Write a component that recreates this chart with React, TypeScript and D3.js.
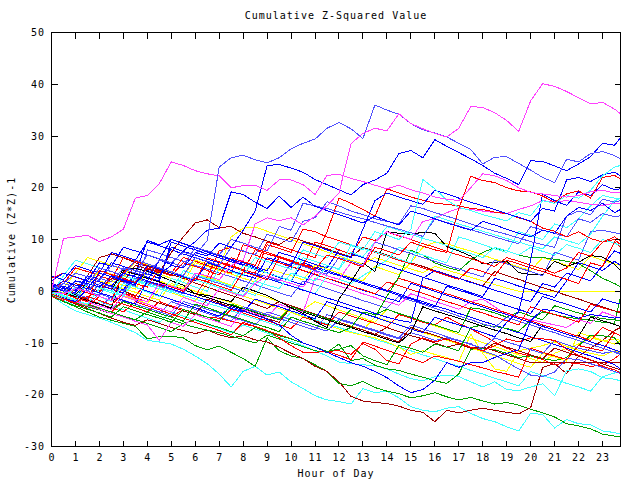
import React from 'react';
import * as d3 from 'd3';

const HOURS = [0, 0.5, 1, 1.5, 2, 2.5, 3, 3.5, 4, 4.5, 5, 5.5, 6, 6.5, 7, 7.5, 8, 8.5, 9, 9.5, 10, 10.5, 11, 11.5, 12, 12.5, 13, 13.5, 14, 14.5, 15, 15.5, 16, 16.5, 17, 17.5, 18, 18.5, 19, 19.5, 20, 20.5, 21, 21.5, 22, 22.5, 23, 23.5, 23.75];
const X_TICKS = [0, 1, 2, 3, 4, 5, 6, 7, 8, 9, 10, 11, 12, 13, 14, 15, 16, 17, 18, 19, 20, 21, 22, 23];
const Y_TICKS = [-30, -20, -10, 0, 10, 20, 30, 40, 50];

const TITLE = 'Cumulative Z-Squared Value';
const X_LABEL = 'Hour of Day';
const Y_LABEL = 'Cumulative (Z*Z)-1';

const RED = '#ff0000';
const GREEN = '#00a000';
const BLUE = '#0000ff';
const MAGENTA = '#ff40ff';
const CYAN = '#40ffff';
const DARKRED = '#a00000';
const YELLOW = '#ffff00';
const BLACK = '#000000';
const SLATE = '#5050ff';

const M1 = [0, 10.2, 10.5, 10.8, 9.6, 10.5, 12, 18, 18.5, 20.8,
  25, 24.3, 23.3, 22.7, 22.3, 20, 20.4, 20.5, 19.5, 21.5,
  21.5, 20.6, 18.7, 22.4, 22.6, 21.8, 21.2, 20.5, 19.8, 20.5,
  19.6, 19, 18.2, 17.8, 17.5, 20, 22.7, 22.3, 21.4, 20,
  19.1, 18.8, 18.5, 18.2, 18.5, 19.2, 19.5, 19, 19];
const M2 = [0, -0.5, 0.5, 0, -1, -1.8, -0.5, -1.5, -2, 1.5,
  1, 0.2, 3.5, 3, 2.2, 5, 6, 13, 14.2, 13.6,
  14.2, 12.8, 14.5, 16.5, 19, 28.5, 30.5, 31.5, 31, 34.3,
  32.4, 31.4, 30.5, 29.8, 31.5, 35.7, 35.5, 34.5, 33, 30.9,
  36.8, 40.1, 39.6, 38.6, 37.4, 36.2, 36.5, 35.2, 34.3];
const S1 = [0.5, 1.5, 0.8, 0, 2.5, 1.8, 4.5, 4, 3.2, 6,
  5.5, 7.5, 7, 9.8, 24, 25.8, 26.3, 25.4, 24.8, 25.8,
  27.5, 28.6, 29.4, 31.5, 32.6, 31.4, 29.5, 36, 35, 34.2,
  32.4, 31.2, 30.6, 29.8, 28.6, 27.4, 24.6, 25.9, 26, 24.7,
  23.4, 22, 21, 25.5, 25, 26.6, 27, 26.2, 25.6];
const BA = [1, 0, 2, 1.5, 0.8, 3, 2.2, 1.5, 4, 3.2,
  5, 4.5, 7.5, 6.8, 9.3, 8.5, 11.8, 15.5, 24.3, 24.5,
  23.8, 23, 21.6, 20.6, 19.6, 18.6, 20.6, 21.5, 22.8, 26.6,
  27.2, 25.8, 29.3, 28, 26.8, 25.6, 24.3, 22.8, 21.8, 20.6,
  25.2, 25.1, 24.2, 23.3, 24.6, 26, 28.6, 28.2, 29.7];
const BB = [0, 1, 0.2, 2.5, 1.8, 1, 3.5, 2.8, 2, 6,
  5.2, 7.8, 9.6, 11.8, 12.2, 19.2, 18.7, 17.2, 16, 18.4,
  16.2, 18.2, 16.4, 15.6, 14.8, 14, 13.2, 14.5, 13.6, 12.8,
  15.5, 14.8, 14, 13.2, 12.5, 11.8, 13.5, 12.8, 12, 11.2,
  10.5, 11.8, 11.2, 14.5, 16.2, 15.6, 17, 15.2, 15.8];
const B10 = [0.5, 2, 1.2, 0.5, 3.5, 2.8, 2, 1.2, 5, 4.3,
  3.5, 2.8, 2, 5.5, 4.8, 4, 3.2, 2.5, 6.5, 5.8,
  5, 9.5, 8.8, 8, 7.2, 6.5, 12, 17.5, 19, 18.2,
  17.5, 16.8, 19.5, 18.8, 18, 17.2, 16.5, 15.8, 15, 14.3,
  13.5, 16, 15.5, 21.5, 22, 21.2, 22.5, 23, 22.3];
const RTOP = [-0.5, -1.5, -2.2, -1, -1.8, -2.6, -0.5, -1.3, -2, 1.5,
  0.8, 0, 2.5, 1.8, 1, 0.2, 3.8, 3, 2.2, 6.5,
  5.8, 5, 4.2, 7, 6.3, 5.5, 4.7, 8.5, 7.8, 7,
  9.5, 8.7, 8, 7.5, 16, 22.2, 21.4, 21, 20, 19.4,
  19.2, 18.4, 17.2, 18.8, 19.4, 18, 22, 22.4, 21.7];
const R2 = [0.5, -0.5, -1.3, -2, 4, 3.2, 2.5, 1.7, 4.5, 3.8,
  3, 5.5, 4.8, 4, 3.2, 6.5, 5.7, 5, 9.5, 8.8,
  8, 7.3, 6.5, 11.5, 18, 17, 15.8, 14.5, 19.8, 19,
  18.2, 17.6, 17, 16.8, 16.5, 16, 15.8, 15.3, 15, 14.2,
  13.5, 12.2, 11.6, 10.5, 11.5, 10.2, 9.5, 10.5, 9.8];
const CTOP = [-0.3, -1.5, 0.8, 0, -1, -2, 1.5, 0.8, -0.2, -1,
  2.5, 1.7, 0.8, 0, 4.5, 3.8, 3, 6.5, 5.8, 5,
  4.2, 8, 7.2, 6.4, 9.5, 8.8, 8, 11.5, 10.8, 10,
  12, 21.6, 19.8, 17.6, 16.2, 15.6, 14.8, 14.2, 13.6, 15.2,
  14.6, 17.5, 17, 18.5, 18, 19.5, 22.3, 24, 24.3];
const C2 = [0.8, 0, -0.8, 1.5, 0.7, 0, -0.8, 2, 1.2, 0.5,
  -0.3, 3, 2.2, 1.5, 0.7, 0, -0.8, 2, 1.2, 0.5,
  3.5, 2.7, 2, 5, 4.2, 7.5, 6.7, 9.5, 12.5, 11.8,
  11, 10.2, 9.6, 8.8, 8, 7.3, 6.5, 8.5, 7.8, 7,
  8.5, 7.7, 7, 9, 8.3, 7.5, 10, 9.3, 8.8];
const C6 = [0.2, -0.8, -1.6, 1.5, 0.8, 0, 3, 2.2, 1.5, 0.8,
  0, 4, 3.2, 2.5, 1.8, 1, 5, 4.3, 3.5, 2.8,
  2, 6.5, 5.8, 5, 4.3, 9, 8.3, 7.6, 6.9, 6.2,
  5.5, 10.5, 14.5, 13.8, 13, 12.3, 11.6, 10.9, 10.2, 9.5,
  8.8, 8.2, 10.5, 9.8, 9.1, 11, 14.5, 17.5, 17.9];
const C1 = [-0.8, -2.5, -3.8, -4.5, -5.2, -6, -7, -8, -9.5, -9.8,
  -10.2, -11.2, -12.5, -14, -16, -18.5, -15.5, -14.5, -16.2, -15.6,
  -17.5, -18.8, -20.2, -21, -21.3, -21.8, -18.8, -19.6, -19.3, -20.6,
  -22.3, -23, -23.3, -22.6, -22.3, -23.6, -24.6, -25.2, -26.2, -27,
  -23.6, -23.8, -26.4, -24.8, -25.6, -25.8, -27, -27.3, -27.6];
const G1 = [-0.8, -2, -3, -4, -5, -5.6, -6.2, -6.8, -9.2, -8.8,
  -8.7, -9, -10.5, -11.3, -10.6, -11.8, -13, -14.5, -9, -11.5,
  -12.5, -13, -14.2, -15.5, -17.8, -18.3, -17.4, -18.6, -19.3, -19.8,
  -20.6, -20.2, -19.6, -20.4, -21, -20.5, -21.2, -21.8, -21.5, -22,
  -22.8, -23.5, -24.3, -25.6, -26, -26.6, -27.6, -28, -28.1];
const DR1 = [-0.5, -1.5, -2.5, -3.3, -4.3, -5.2, -6, -6.6, -5.5, -6.2,
  -7, -7.6, -8.2, -7.5, -8.4, -9, -8.6, -9.4, -9.8, -10.8,
  -12, -13, -14.5, -15.5, -17.5, -20.3, -21.2, -21.5, -21.7, -22.2,
  -23, -23.4, -25.2, -23, -23.5, -23, -22.6, -23, -23.4, -23.7,
  -22.5, -14.7, -14, -15.9, -12.5, -11, -9.5, -7.6, -7];
const DR2 = [0.5, -0.4, -1.2, 3, 6.5, 7.2, 6.5, 5.5, 4.8, 4,
  3.2, 2.5, 1.6, 0.8, 0, -0.8, -1.6, -2.5, -3.3, -2,
  -2.8, -3.6, -4.4, -5.2, -6, -6.8, -7.5, -8.3, -7, -7.8,
  -8.6, -9.2, -10, -10.8, -10.2, -11, -10.8, -11.5, -12.3, -13,
  -13.8, -13.8, -13.8, -13.8, -13.8, -13.8, -13.8, -13.8, -13.8];
const DR3 = [0, -0.8, 1.5, 0.8, 0, 2.5, 1.8, 5, 4.3, 3.6,
  7.5, 10.5, 13.2, 13.8, 12.3, 12.5, 11.2, 10.5, 9.7, 9,
  10.5, 9.7, 9, 8.2, 7.4, 6.6, 8.5, 7.7, 7, 6.2,
  5.5, 4.8, 4, 3.3, 2.5, 1.8, 1, 3.8, 3, 2.3,
  1.5, 0.7, 0, -0.8, -1.5, -2.3, -3, -3.8, -4.2];
const Y1 = [0.5, -0.3, 2, 1.3, 4, 3.3, 2.6, 5.8, 5.1, 4.4,
  3.7, 3, 6, 5.3, 4.6, 10.5, 12.2, 12.4, 11.6, 10.8,
  10, 9.2, 8.4, 7.6, 6.8, 6, 5.3, 6.5, 5.8, 5,
  4.3, 3.6, 4.8, 4.1, 3.4, 2.7, 2, 1.3, 0.6, 0,
  0, 0, 0, 0, 0, 0, 0, 0, 0];
const Y2 = [-0.3, -1.2, -2, 1.5, 0.7, 0, -0.8, -1.6, -2.4, 0.5,
  -0.3, -1.1, -1.9, 1.5, 0.7, -0.1, -0.9, -1.7, -2.5, -3.3,
  -4.1, -4.9, -5.7, -6.5, -7.3, -8, -8.5, -9, -9.8, -10.8,
  -12.2, -11.5, -12.2, -12.8, -13.6, -8.3, -12, -15, -15.5, -11.5,
  -11, -10.5, -9.8, -10.6, -11.4, -12, -12.5, -11.5, -11.8];
const Y3 = [1.5, 0.7, 3.5, 6.5, 5.8, 5, 4.2, 3.5, 2.7, 2,
  1.2, 0.5, 3.5, 2.7, 2, 1.2, 0.4, -0.4, -1.2, -2,
  -2.8, -3.6, -2, -2.8, -3.6, -4.4, -5.2, -6, -3.5, -4.3,
  -5.1, -5.9, -6.7, -7.5, -8.3, -9.1, -9.9, -10.7, -11.5, -12.3,
  -13, -13.8, -12, -11, -10.2, -9, -9.6, -9.2, -9.5];
const Y4 = [0, -1, -1.8, -2.6, 0.5, 2, 1.2, 0.4, 4, 3.3,
  2.5, 1.7, 5.5, 4.8, 4, 3.3, 2.5, 1.8, 4.5, 3.7,
  3, 2.2, 5, 4.3, 3.5, 2.7, 2, 4.8, 4, 3.2,
  5.5, 8.5, 9.5, 9.2, 8.4, 7.8, 7, 6.2, 5.5, 4.7,
  4, 6.5, 5.8, 5, 4.2, 6.8, 6, 5.3, 5];
const G2 = [-0.5, -1.5, -2.2, -3, -3.6, -4.3, -5, -5.5, -4, -4.8,
  -5.5, -6.3, -7, -7.5, -8, -8.7, -9.3, -10, -8.5, -9.2,
  -10, -10.7, -11.5, -11.8, -10.2, -13.4, -13, -14.3, -15, -15.3,
  -16, -16.6, -17.3, -17.8, -16, -11.2, -11, -11.3, -12, -12.8,
  -12.5, -13, -13.4, -12.8, -10.5, -8.5, -8.6, -9, -10.5];
const G3 = [-1, -2, -2.8, -3.5, -4.2, -5, -3, -3.8, -4.5, -5.2,
  -6, -3.5, -4.3, -5, -5.8, -2.5, -3.3, -4, -4.8, -5.5,
  -3, -3.8, -4.5, -5.3, -6, -3.5, -4.2, -5, -1, 2.8,
  7.9, 7, 5.5, 4.6, 4, 6, 7.5, 8.4, 7.8, 7,
  6.5, 6.5, 6.2, 5.8, 5.3, 4, 2.5, 1.5, 0.8];
const G4 = [0, -1, -1.8, -2.6, -3.3, -4, -4.8, -5.5, -6.2, -7,
  -7.8, -6.2, -5.5, -6.3, -7, -7.8, -8.6, -7, -7.8, -8.6,
  -9.2, -10, -10.8, -11.6, -11.2, -10.5, -12.5, -13.4, -14.2, -10.5,
  -11, -11.8, -10.2, -10.8, -11.5, -7, -6.5, -6.8, -7.2, -7.8,
  -5.5, -4, -4.5, -5, -5.3, -5.6, -6, -6.2, -1.2];
const G5 = [0.5, -0.5, -1.3, -2, -2.8, -3.5, -2, -2.8, -3.5, -4.3,
  -5, -5.8, -2.5, -3.2, -4, -4.8, -5.5, -6.3, -7, -7.8,
  -5, -5.8, -6.5, -7.3, -8, -7, -4, -4.5, -3.5, -4.3,
  -5, -5.8, -6.5, -7.3, -8, -3.2, -3.5, -4.2, -5, -4,
  -4.8, -5.5, -2.8, -3.5, -4.2, -4.8, -5.3, -5.5, -5.7];
const R5 = [0, -1, -1.8, -2.5, -3.3, -4, -2, -2.8, -3.5, -4.3,
  -5, -3.5, -4.3, -5, -5.2, -5.8, -6.3, -6.8, -7.6, -9,
  -10.5, -11.8, -11.8, -11.6, -11.5, -12.2, -10.1, -11.2, -13.4, -14,
  -10.2, -9, -9.8, -9.2, -10.1, -10.8, -11.5, -10.5, -9.2, -9.8,
  -9, -9.2, -9.5, -11.2, -12.4, -13.2, -14.5, -15.2, -15.7];
const R4 = [-0.5, -1.5, -2.3, -3, -1, -1.8, -2.5, -3.2, -4, -2,
  -2.8, -3.5, -4.2, -5, -5.7, -3.5, -4.2, -5, -5.7, -6.5,
  -7.2, -5, -5.7, -6.5, -4, -4.8, -5.5, -6.2, -7, -4.5,
  -5.2, -6, -6.5, -5, -6.2, -7.3, -8.5, -9.8, -11, -12,
  -12.5, -13.2, -14.2, -13.8, -14, -14.5, -14.3, -13, -12.1];
const R7 = [1, 0, -0.8, -1.6, -2.4, -3.2, -4, -2, -2.8, -3.6,
  -4.4, -5.2, -6, -6.8, -7.6, -8.4, -6, -6.8, -7.6, -8.4,
  -9.2, -10, -10.8, -11.6, -12.4, -13.2, -9.8, -10.6, -11.4, -12.2,
  -13, -13.8, -12.5, -13, -13.5, -14.2, -14.8, -15.5, -16, -16.6,
  -11, -11.8, -12.5, -13.2, -10.5, -11, -11.5, -8, -8.6];
const R3 = [0.2, 2, 1.2, 0.5, -0.3, 3, 2.3, 1.5, 0.8, 4.5,
  3.8, 3, 2.2, 1.5, 5.5, 4.8, 4, 8, 7.2, 6.5,
  5.7, 5, 9.5, 8.8, 8, 7.2, 10.5, 9.8, 11.5, 10.7,
  10, 9.2, 8.5, 7.7, 7, 6.3, 5.5, 4.8, 6.5, 5.8,
  5, 4.3, 3.5, 4.5, 7.5, 6.8, 9.5, 10, 9];
const R6 = [2.5, 3.5, 2.7, 2, 1.2, 0.5, -0.3, -1, 2, 1.2,
  0.5, -0.3, -1, 2.8, 7.8, 8.5, 7.7, 7, 6.2, 5.5,
  4.8, 4, 3.3, 2.5, 1.8, 1, 0.3, -0.5, 1.8, 1.1,
  0.3, -0.4, -1.2, -2, -2.7, -3.5, -4.2, -5, -5.7, -6.5,
  -3, -3.8, -4.5, -5.2, -6, -2.5, -3.2, -3.8, -4];
const R8 = [-1, -1.8, 0.5, -0.3, -1, -1.8, 3.5, 5.8, 5, 4.2,
  3.5, 2.7, 2, 6.5, 5.7, 5, 4.2, 3.5, 9, 8.3,
  7.5, 12, 11.5, 10.5, 9.8, 9, 8.3, 7.5, 6.8, 6,
  5.3, 4.5, 3.8, 3, 2.3, 4.5, 3.8, 3, 6, 5.3,
  4.5, 3.8, 3, 2.3, 1.5, 5.5, 4.8, 9.5, 8.5];
const B7 = [-0.5, -1.5, 0.5, -0.3, -1, -1.8, 1.5, 0.8, 0, -0.8,
  -1.6, -2.4, -3.2, -4, -4.8, -3, -3.8, -4.6, -5.4, -6.5,
  -8.5, -10, -10.8, -11.8, -12.8, -13.8, -14.5, -15.5, -16.7, -18.3,
  -19.6, -19, -17.2, -13.8, -14.7, -13.8, -13.8, -12.8, -12, -11.3,
  -5.7, -3.5, -3.8, -4.5, -5.2, -4.5, -4.8, -5.2, -5];
const B3 = [-0.3, -1.3, -2, 0.5, -0.3, -1, -1.8, -2.5, 2, 1.3,
  0.5, -0.3, -1, -1.8, -2.5, -3.3, -4, -1.5, -2.3, -3,
  -3.8, -4.5, -5.3, -2, -2.8, -3.5, -4.3, -5, -5.8, -6.5,
  -7.3, -8, -5, -5.8, -6.5, -7.2, -8, -8.8, -6, -4,
  6, 18.8, 17.5, 16.6, 19.2, 18.5, 20.6, 19.6, 19.8];
const B4 = [1.5, 0.7, 0, 3, 2.3, 5.5, 4.8, 4, 3.3, 2.5,
  8.5, 7.7, 7, 6.2, 5.5, 4.7, 4, 3.2, 2.5, 1.7,
  1, 0.2, -0.5, -1.3, -2, -2.8, -3.5, -4.3, -5, -5.6,
  -6, 2.5, 4, 3.2, 2.5, 1.7, 1, 0.2, -0.5, -1.3,
  -2, 1.5, 0.8, 3.5, 2.8, 2, 5, 7.8, 7.3];
const B5 = [2, 3.5, 2.8, 2, 5.5, 4.8, 8.5, 7.8, 7, 6.2,
  10, 9.2, 8.5, 7.7, 7, 6.2, 5.5, 4.7, 4, 7.5,
  6.8, 6, 5.2, 4.5, 8, 7.2, 6.5, 5.7, 5, 4.2,
  3.5, 2.7, 2, 1.2, 0.5, -0.3, -1, 2.5, 1.8, 1,
  0.3, -0.5, -1.2, 2, 5.5, 4.8, 4, 5.8, 5];
const B6 = [0, -0.8, -1.6, 2, 1.2, 0.4, -0.4, 3.5, 2.7, 2,
  9.5, 8.7, 8, 7.2, 6.5, 5.7, 5, 4.2, 3.5, 2.7,
  2, 1.2, 4.5, 3.7, 3, 2.2, 1.5, 0.7, 0, -0.8,
  -1.5, -2.3, -3, 1, 0.2, -0.5, -1.3, -2, -2.8, -3.5,
  -4.3, -1, -1.8, -2.5, -3.3, -4, -1.5, -2.2, -2.5];
const S5 = [0.5, -0.5, 2, 1.2, 4.5, 3.8, 3, 6, 5.3, 4.5,
  3.8, 3, 6.5, 5.8, 5, 8.5, 7.8, 7, 11, 10.3,
  9.5, 13.5, 14.2, 17.3, 16.5, 15.5, 14.8, 14, 13.5, 13,
  16.5, 16, 15.2, 14.5, 13.8, 13, 12.3, 11.6, 11, 10.3,
  9.6, 9, 8.5, 14.5, 15.5, 14.8, 17.8, 17.2, 17.5];
const S7 = [-0.3, 1.5, 3.5, 2.8, 2, 5, 4.3, 3.5, 7, 6.3,
  5.5, 4.8, 8.5, 7.8, 7, 10, 9.3, 8.5, 7.8, 12.5,
  11.8, 17, 16.5, 16, 15.3, 14.6, 14, 13.3, 12.6, 12,
  11.3, 10.6, 14, 13.3, 12.6, 11.9, 11.2, 10.5, 9.8, 9.2,
  12.5, 11.8, 11.2, 10.5, 14, 13.3, 15, 14.4, 14.6];
const S2 = [1, 0.2, -0.5, -1.3, 1.5, 0.8, 0, 2.5, 1.8, 1,
  0.3, -0.5, 3, 2.2, 1.5, 0.7, 0, 3.5, 2.8, 2,
  5.5, 4.8, 4, 3.3, 6.5, 5.8, 5, 9.5, 8.8, 8,
  7.3, 6.5, 5.8, 5, 4.3, 3.5, 2.8, 6, 5.3, 4.5,
  3.8, 3, 7.5, 6.8, 6, 11.5, 11.8, 11.3, 11.1];
const S3 = [-0.5, -1.3, -2, -2.8, -0.5, -1.3, -2, -2.8, -3.5, -4.3,
  -2, -2.8, -3.5, -4.3, -5, -5.8, -3, -3.8, -4.5, -5.3,
  -6, -6.8, -7.5, -4.5, -5.3, -6, -6.8, -7.5, -8.3, -9,
  -6.5, -7.3, -8, -8.8, -9.5, -10.3, -11, -9, -9.8, -10.5,
  -11.3, -12, -9.5, -10.3, -11, -11.5, -12, -11.6, -12.1];
const S4 = [0, -1, -1.7, -2.5, -3.2, -1, -1.7, -2.5, -3.2, -4,
  -4.7, -2, -2.7, -3.5, -4.2, -5, -5.7, -6.5, -4, -4.7,
  -5.5, -6.2, -7, -7.7, -5.5, -6.2, -7, -7.7, -8.5, -9.2,
  -8, -8.7, -9.5, -9, -9.6, -10.1, -11.5, -12.3, -13.7, -15,
  -16.2, -16.5, -15.6, -13, -13.2, -14, -14.7, -15.5, -15.9];
const C4 = [-0.5, -1.8, -2.8, -3.5, -2, -2.8, -3.6, -4.4, -5.2, -6,
  -4, -4.8, -5.6, -6.4, -7.2, -8, -6.5, -7.3, -8.1, -8.9,
  -9.7, -10.5, -11.5, -12.5, -13.7, -14, -14.2, -14.4, -15, -16,
  -16.9, -17.3, -16.5, -16.2, -16.5, -17.5, -18.5, -17.5, -19, -19.2,
  -18.5, -17.9, -20.2, -15.4, -15, -15.5, -16.7, -17, -17.3];
const C3 = [0, -1, -1.8, -2.5, 0.5, -0.3, -1, 2.8, 2, 1.3,
  0.5, -0.3, 3, 2.3, 1.5, 0.8, 0, -0.8, 2.5, 1.8,
  1, 0.3, -0.5, 3, 2.3, 1.5, 3, 4.5, 6, 8.5,
  7.7, 7, 6.2, 5.5, 10.5, 9.8, 9, 8.2, 7.5, 11.5,
  10.8, 10, 13, 12.3, 14, 16.5, 18.5, 18, 17.8];
const M3 = [0.3, -0.5, -1.3, -2, -2.8, -3.5, -1, -1.8, -2.5, -3.3,
  -4, -1.2, -2, -2.8, 0.5, -0.3, -1, 1.5, 3, 2.2,
  1.5, 0.8, 3.8, 3, 2.3, 5.5, 4.8, 9.5, 11.5, 10.8,
  10, 13.5, 14, 15.2, 16, 15.8, 15.5, 15.2, 15, 15.8,
  16.5, 17.5, 17.3, 17.5, 17.2, 16.8, 16.6, 17, 16.9];
const M4 = [-0.5, -1.3, -2, -2.8, -3.5, -4.3, -5, -5.8, -6.5, -9.5,
  -6, -6.8, -4.5, -5.3, -6, -6.8, -3.5, -4.3, -5, -2.5,
  -3.3, -4, 2.5, 1.8, 1, 0.3, -0.5, -1.2, -2, -2.7,
  -0.5, -1.2, -2, -2.7, -3.5, -2, -1.5, -3, -4.5, -5,
  -5.5, -6, -6.5, -7, -5.5, -6.2, -4, -4.8, -5.2];
const R9 = [0, 1.5, 4.5, 3.8, 3, 2.2, 6.5, 5.8, 5, 4.2,
  3.5, 6.5, 5.8, 5, 4.2, 3.5, 9, 8.2, 7.5, 6.7,
  6, 5.2, 4.5, 3.7, 3, 2.2, 1.5, 0.7, 0, 2.5,
  1.8, 1, 0.3, -0.5, -1.2, -2, -2.7, -3.5, -4.2, -5,
  -5.7, -6.5, -7.2, -8, -8.7, -9.5, -7, -8, -8.6];
const B8 = [3, 2.2, 5, 4.2, 3.5, 7.5, 6.8, 6, 9.5, 8.8,
  8, 7.2, 6.5, 5.7, 5, 8.5, 7.8, 7, 6.2, 5.5,
  4.7, 4, 3.2, 2.5, 1.7, 1, 0.2, -0.5, -1.3, -2,
  1.5, 0.8, 0, -0.8, -1.5, -2.3, -3, -3.8, -4.5, -5.3,
  -6, -6.8, -7.5, -8.3, -9, -9.8, -10.5, -11.3, -11.7];
const B9 = [1.2, 0.5, -0.3, 2.5, 1.8, 1, 0.3, 3.5, 9.8, 9,
  10, 9.2, 8.4, 7.6, 6.8, 6, 5.2, 4.4, 3.6, 2.8,
  2, 5.5, 4.7, 4, 3.2, 2.5, 1.7, 1, 0.2, -0.5,
  -1.3, -2, -2.8, -3.5, -4.3, -5, -5.8, -6.5, -7.3, -8,
  -8.8, -9.5, -10.3, -11, -11.8, -12.5, -13.3, -14.2, -15];
const S6 = [-0.5, 1.5, 0.8, 0, -0.8, 2.5, 1.8, 1, 8, 7.3,
  6.5, 5.8, 5, 4.3, 3.5, 2.8, 2, 1.3, 0.5, -0.3,
  -1, 2, 1.3, 0.5, -0.3, -1, -1.8, -2.5, -3.3, -1,
  -1.8, -2.5, -3.3, -4, -4.8, -5.5, -6.3, -7, -5, -5.8,
  -6.5, -7.3, -8, -8.8, -9.5, -10.3, -11, -11.8, -12.2];
const DR4 = [0.8, 0, -0.8, -1.5, 1.5, 0.8, 0, -0.8, -1.5, -2.3,
  -3, -3.8, -4.5, -1.5, -2.3, -3, -3.8, -4.5, -5.3, -6,
  -3, -3.8, -4.5, -5.3, -6, -6.8, -7.5, -8.3, -9, -9.8,
  -7, -7.8, -8.5, -9.3, -10, -10.8, -11.5, -10, -10.8, -11.5,
  -12.3, -13, -11, -11.8, -12.5, -13.3, -14, -14.8, -15.2];
const Y5 = [0, 1.5, 3.5, 2.8, 2, 1.3, 0.5, -0.2, -1, -1.7,
  1.5, 0.8, 0, -0.7, -1.5, -2.2, -3, -3.7, -4.5, -5.2,
  -3, -3.7, -4.5, -5.2, -6, -6.7, -7.5, -5, -5.7, -6.5,
  -7.2, -8, -8.7, -9.5, -10.2, -11, -11.7, -12.5, -13.2, -14,
  -14.7, -12, -12.7, -13.5, -8, -8.7, -9.5, -10.2, -9.5];
const K1 = [1, 0.2, -0.6, 1.5, 0.8, 0, 4.4, 4.4, 3.9, 3,
  2, 1.2, -0.5, -0.8, -1.4, -2, 0.8, 0, -0.8, -2,
  -3.2, -4.3, -5.8, -7, -1.5, 1.8, 5.5, 3.8, 11.5, 11.2,
  11, 11.4, 11.2, 8.6, 7.8, 6.8, 5.3, 5.6, 5.8, 3.6,
  3.2, 3.2, 5.8, 4.8, 5.6, 6.9, 6.6, 5.2, 4];
const K2 = [0.5, -0.3, -1, -1.8, -2.5, -3.3, 4, 3.3, 2.5, 1.8,
  1, 0.3, -0.5, -1.2, -2, -2.7, -3.5, -4.2, -5, -2.5,
  -3.3, -4, -4.8, -5.5, -6.3, -7, -7.8, -8.5, -9.3, -10,
  -8, -3, -3.8, -4.5, -5.2, -6, -6.8, -7.5, -8.2, -9,
  -9.7, -6.5, -7.2, -8, -8.7, -5, -5.7, -6.4, -6.8];
const C5 = [-0.5, 3, 6, 5.3, 4.5, 3.8, 3, 2.3, 1.5, 0.8,
  0, -0.8, -1.5, -2.3, -3, -3.8, -4.5, -5.3, -6, -6.8,
  -4, -4.8, -5.5, -6.3, -7, -7.8, -8.5, -9.3, -10, -10.8,
  -11.5, -12.3, -13, -13.8, -14.5, -15.3, -16, -16.8, -17.5, -18.3,
  -15.5, -16.3, -17, -17.8, -18.5, -19.3, -16.5, -15.8, -15.5];

const SERIES = [
  { values: C1, color: CYAN },
  { values: G1, color: GREEN },
  { values: DR1, color: DARKRED },
  { values: C5, color: CYAN },
  { values: C4, color: CYAN },
  { values: Y2, color: YELLOW },
  { values: Y3, color: YELLOW },
  { values: Y5, color: YELLOW },
  { values: R4, color: RED },
  { values: G2, color: GREEN },
  { values: S4, color: SLATE },
  { values: DR2, color: DARKRED },
  { values: R7, color: RED },
  { values: B9, color: BLUE },
  { values: S3, color: SLATE },
  { values: DR4, color: DARKRED },
  { values: R5, color: RED },
  { values: G4, color: GREEN },
  { values: K2, color: BLACK },
  { values: S6, color: SLATE },
  { values: G5, color: GREEN },
  { values: M4, color: MAGENTA },
  { values: B8, color: BLUE },
  { values: R9, color: RED },
  { values: Y4, color: YELLOW },
  { values: Y1, color: YELLOW },
  { values: B7, color: BLUE },
  { values: R6, color: RED },
  { values: B6, color: BLUE },
  { values: G3, color: GREEN },
  { values: DR3, color: DARKRED },
  { values: C3, color: CYAN },
  { values: K1, color: BLACK },
  { values: B4, color: BLUE },
  { values: B5, color: BLUE },
  { values: S2, color: SLATE },
  { values: R3, color: RED },
  { values: R8, color: RED },
  { values: C2, color: CYAN },
  { values: C6, color: CYAN },
  { values: M3, color: MAGENTA },
  { values: S7, color: SLATE },
  { values: B3, color: BLUE },
  { values: R2, color: RED },
  { values: S5, color: SLATE },
  { values: B10, color: BLUE },
  { values: CTOP, color: CYAN },
  { values: RTOP, color: RED },
  { values: BB, color: BLUE },
  { values: BA, color: BLUE },
  { values: M1, color: MAGENTA },
  { values: S1, color: SLATE },
  { values: M2, color: MAGENTA },
];

const FONT = '"DejaVu Sans Mono", "Liberation Mono", monospace';

export default function App() {
  const W = 640;
  const H = 480;
  const left = 51.5, right = 620.5, top = 32.5, bottom = 446.5;
  const x = d3.scaleLinear().domain([0, 23.75]).range([left, right]);
  const y = d3.scaleLinear().domain([-30, 50]).range([bottom, top]);
  const makeLine = (vals: number[]) =>
    d3.line<number>()
      .x((_, i) => x(HOURS[i]))
      .y((d) => y(d))(vals.slice(0, HOURS.length)) || '';
  const tickLen = 6;
  const textStyle = { fontFamily: FONT, fontSize: '10px', letterSpacing: '1px' } as React.CSSProperties;

  return (
    <svg width={W} height={H} viewBox={`0 0 ${W} ${H}`}
      style={{ position: 'absolute', left: 0, top: 0, background: '#fff', display: 'block' }}>
      <rect x={0} y={0} width={W} height={H} fill="#ffffff" />
      <g fill="none" strokeWidth={1} shapeRendering="crispEdges">
        {SERIES.map((s, i) => (
          <path key={i} d={makeLine(s.values)} stroke={s.color} />
        ))}
      </g>
      <g stroke="#000" strokeWidth={1} shapeRendering="crispEdges" fill="none">
        <rect x={left} y={top} width={right - left} height={bottom - top} />
        {X_TICKS.map((t) => (
          <g key={'xt' + t}>
            <line x1={x(t)} x2={x(t)} y1={bottom} y2={bottom - tickLen} />
            <line x1={x(t)} x2={x(t)} y1={top} y2={top + tickLen} />
          </g>
        ))}
        {Y_TICKS.map((t) => (
          <g key={'yt' + t}>
            <line x1={left} x2={left + tickLen} y1={y(t)} y2={y(t)} />
            <line x1={right} x2={right - tickLen} y1={y(t)} y2={y(t)} />
          </g>
        ))}
      </g>
      <g fill="#000" style={textStyle}>
        {X_TICKS.map((t) => (
          <text key={'xl' + t} x={x(t) + 0.5} y={460.5} textAnchor="middle">{String(t)}</text>
        ))}
        {Y_TICKS.map((t) => (
          <text key={'yl' + t} x={45} y={y(t) + 3.6} textAnchor="end">{String(t)}</text>
        ))}
        <text x={(left + right) / 2} y={19} textAnchor="middle">{TITLE}</text>
        <text x={(left + right) / 2} y={477} textAnchor="middle">{X_LABEL}</text>
        <text transform={`translate(15,240) rotate(-90)`} textAnchor="middle">{Y_LABEL}</text>
      </g>
    </svg>
  );
}
